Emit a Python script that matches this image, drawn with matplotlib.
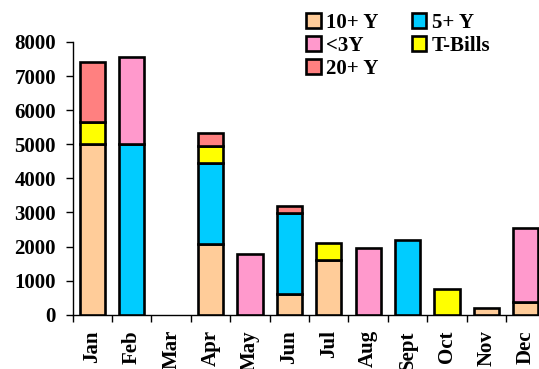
import numpy as np
import matplotlib.pyplot as plt
from matplotlib.patches import Patch

months = ['Jan', 'Feb', 'Mar', 'Apr', 'May', 'Jun', 'Jul', 'Aug', 'Sept', 'Oct', 'Nov', 'Dec']

series = ['10+ Y', '5+ Y', '<3Y', 'T-Bills', '20+ Y']
ten_y   = [5000, 0, 0, 2070, 0,    600,  1620, 0,    0,    0,   210, 380]
five_y  = [0, 5000, 0, 2370, 0,    2380, 0,    0,    2190, 0,   0,   0]
under_3 = [0, 2550, 0, 0,    1790, 0,    0,    1970, 0,    0,   0,   2170]
t_bills = [650, 0,  0, 500,  0,    0,    490,  0,    0,    760, 0,   0]
twenty_y = [1760, 0, 0, 400, 0,    210,  0,    0,    0,    0,   0,   0]

colors = ['#FFCC99', '#00CCFF', '#FF99CC', '#FFFF00', '#FF8080']

plt.rcParams['font.family'] = 'Liberation Serif'
plt.rcParams['font.weight'] = 'bold'

fig = plt.figure(figsize=(5.39, 3.69), dpi=100)
ax = fig.add_axes([0.1349, 0.1469, 0.877, 0.7393])

x = np.arange(len(months))
bottom = np.zeros(len(months))
for name, vals, c in zip(series, [ten_y, five_y, under_3, t_bills, twenty_y], colors):
    vals = np.array(vals, dtype=float)
    keep = vals > 0
    ax.bar(x[keep], vals[keep], width=0.64, bottom=bottom[keep], color=c,
           edgecolor='black', linewidth=1.9, zorder=3)
    bottom += vals

ax.set_xlim(-0.5, 11.5)
ax.set_ylim(0, 8000)
ax.set_yticks(np.arange(0, 8001, 1000))
ax.set_xticks(np.arange(-0.5, 12, 1))
ax.set_xticklabels([])
ax.set_xticks(x, minor=True)
ax.set_xticklabels(months, minor=True, rotation=90, fontsize=15, fontweight='bold')
ax.tick_params(axis='x', which='minor', length=0, pad=11)
ax.tick_params(axis='x', which='major', length=5, width=1, direction='out')
ax.tick_params(axis='y', length=5, width=1, pad=7, labelsize=15)
for lab in ax.get_yticklabels():
    lab.set_fontweight('bold')

ax.spines['top'].set_visible(False)
ax.spines['right'].set_visible(False)
ax.spines['left'].set_linewidth(1)
ax.spines['bottom'].set_linewidth(1)

# legend filled column by column: 10+ Y, <3Y, 20+ Y | 5+ Y, T-Bills
order = [0, 2, 4, 1, 3]
handles = [Patch(facecolor=colors[i], edgecolor='black', linewidth=1.9, label=series[i]) for i in order]
fig.legend(handles=handles, loc='upper left', bbox_to_anchor=(0.545, 1.0), ncol=2,
           frameon=False, handlelength=0.7, handleheight=0.7,
           handletextpad=0.25, columnspacing=1.6, labelspacing=0.15, borderpad=0.1,
           prop={'weight': 'bold', 'size': 15})

fig.savefig('out.png', dpi=100)
